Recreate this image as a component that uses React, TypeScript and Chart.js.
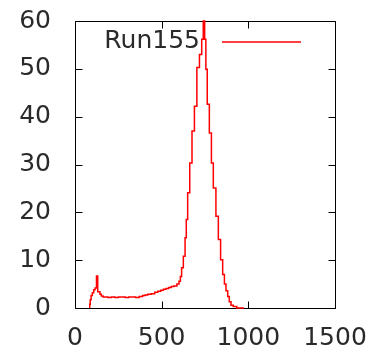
import React, { useEffect, useRef } from 'react';
import { Chart, registerables } from 'chart.js';

Chart.register(...registerables);

const seriesLabel = 'Run155';
const binX = [
  85, 88, 93, 100, 108, 116, 124, 131, 144, 152, 162, 175,
  190, 210, 230, 250, 270, 290, 310, 330, 350, 370, 390,
  405, 420, 440, 460, 478, 495, 510, 525, 540, 555, 570, 588,
  600, 608, 615, 625, 635, 642, 650, 662, 675, 689, 703, 718, 731, 740, 748,
  755, 763, 775, 787, 798, 813, 827, 840, 852, 862, 871, 881, 890, 900, 913, 933, 975,
];
const counts = [
  0, 0.8, 1.7, 2.6, 3.2, 3.8, 4.2, 6.7, 3.4, 2.9, 2.5, 2.3,
  2.3, 2.2, 2.3, 2.2, 2.3, 2.3, 2.2, 2.3, 2.3, 2.2, 2.4,
  2.6, 2.7, 2.9, 3.0, 3.3, 3.5, 3.7, 3.9, 4.1, 4.3, 4.5, 4.6,
  5.0, 5.6, 6.6, 8.4, 10.8, 14.7, 18.5, 24.1, 30.3, 37.0, 42.2, 50.3, 53.0, 56.2, 60.0,
  56.2, 49.9, 42.6, 36.6, 30.3, 25.1, 19.2, 14.3, 10.1, 7.0, 5.0, 3.6, 2.4, 1.3, 0.6, 0.3, 0,
];
const xTicks = [0, 500, 1000, 1500];
const yTicks = [0, 10, 20, 30, 40, 50, 60];

const FONT = "'DejaVu Sans', sans-serif";
const TEXT = '#2a2a2a';

const gnuplotFrame = {
  id: 'gnuplotFrame',
  beforeDatasetsDraw(chart: any) {
    const { ctx, chartArea: a, scales } = chart;
    const L = Math.round(a.left) + 0.5;
    const R = Math.round(a.right) + 0.5;
    const T = Math.round(a.top) + 0.5;
    const B = Math.round(a.bottom) + 0.5;
    const tl = 7;
    ctx.save();
    ctx.strokeStyle = '#000';
    ctx.lineWidth = 1;
    ctx.beginPath();
    ctx.rect(L, T, R - L, B - T);
    for (const v of xTicks) {
      const px = Math.round(scales.x.getPixelForValue(v)) + 0.5;
      ctx.moveTo(px, B);
      ctx.lineTo(px, B - tl);
      ctx.moveTo(px, T);
      ctx.lineTo(px, T + tl);
    }
    for (const v of yTicks) {
      const py = Math.round(scales.y.getPixelForValue(v)) + 0.5;
      ctx.moveTo(L, py);
      ctx.lineTo(L + tl, py);
      ctx.moveTo(R, py);
      ctx.lineTo(R - tl, py);
    }
    ctx.stroke();
    ctx.restore();
  },
  afterDatasetsDraw(chart: any) {
    const { ctx } = chart;
    const ds = chart.data.datasets[0];
    ctx.save();
    ctx.font = `25px ${FONT}`;
    ctx.fillStyle = TEXT;
    ctx.textAlign = 'right';
    ctx.textBaseline = 'middle';
    ctx.fillText(ds.label, 200, 41);
    ctx.strokeStyle = ds.borderColor;
    ctx.lineWidth = 1.5;
    ctx.beginPath();
    ctx.moveTo(222, 42);
    ctx.lineTo(301, 42);
    ctx.stroke();
    ctx.restore();
  },
};

const zeroPad = (s: any) => {
  s.paddingLeft = 0;
  s.paddingRight = 0;
  s.paddingTop = 0;
  s.paddingBottom = 0;
};

export default function App() {
  const ref = useRef<HTMLCanvasElement>(null);
  useEffect(() => {
    if (!ref.current) return;
    const chart = new Chart(ref.current, {
      type: 'line',
      data: {
        datasets: [
          {
            label: seriesLabel,
            data: binX.map((x, i) => ({ x, y: counts[i] })),
            borderColor: '#ff0000',
            borderWidth: 1.5,
            pointRadius: 0,
            stepped: 'after',
            fill: false,
            clip: 3,
          },
        ],
      },
      options: {
        animation: false,
        responsive: false,
        maintainAspectRatio: false,
        layout: { padding: { top: 21, right: 32, left: 0, bottom: 0 } },
        plugins: { legend: { display: false }, tooltip: { enabled: false } },
        scales: {
          x: {
            type: 'linear',
            min: 0,
            max: 1500,
            afterBuildTicks: (s: any) => { s.ticks = xTicks.map((v) => ({ value: v })); },
            afterFit: (s: any) => { s.height = 41; zeroPad(s); },
            grid: { display: false, drawTicks: false },
            border: { display: false },
            ticks: {
              font: { family: FONT, size: 25 },
              color: TEXT,
              padding: 15,
              maxRotation: 0,
              autoSkip: false,
              callback: (v: any) => String(v),
            },
          },
          y: {
            type: 'linear',
            min: 0,
            max: 60,
            afterBuildTicks: (s: any) => { s.ticks = yTicks.map((v) => ({ value: v })); },
            afterFit: (s: any) => { s.width = 75; zeroPad(s); },
            grid: { display: false, drawTicks: false },
            border: { display: false },
            ticks: {
              font: { family: FONT, size: 25 },
              color: TEXT,
              padding: 24,
              autoSkip: false,
              callback: (v: any) => String(v),
            },
          },
        },
      },
      plugins: [gnuplotFrame],
    });
    return () => chart.destroy();
  }, []);
  return (
    <div style={{ position: 'fixed', left: 0, top: 0, width: 367, height: 349, background: '#fff' }}>
      <canvas ref={ref} width={367} height={349} style={{ display: 'block' }} />
    </div>
  );
}
